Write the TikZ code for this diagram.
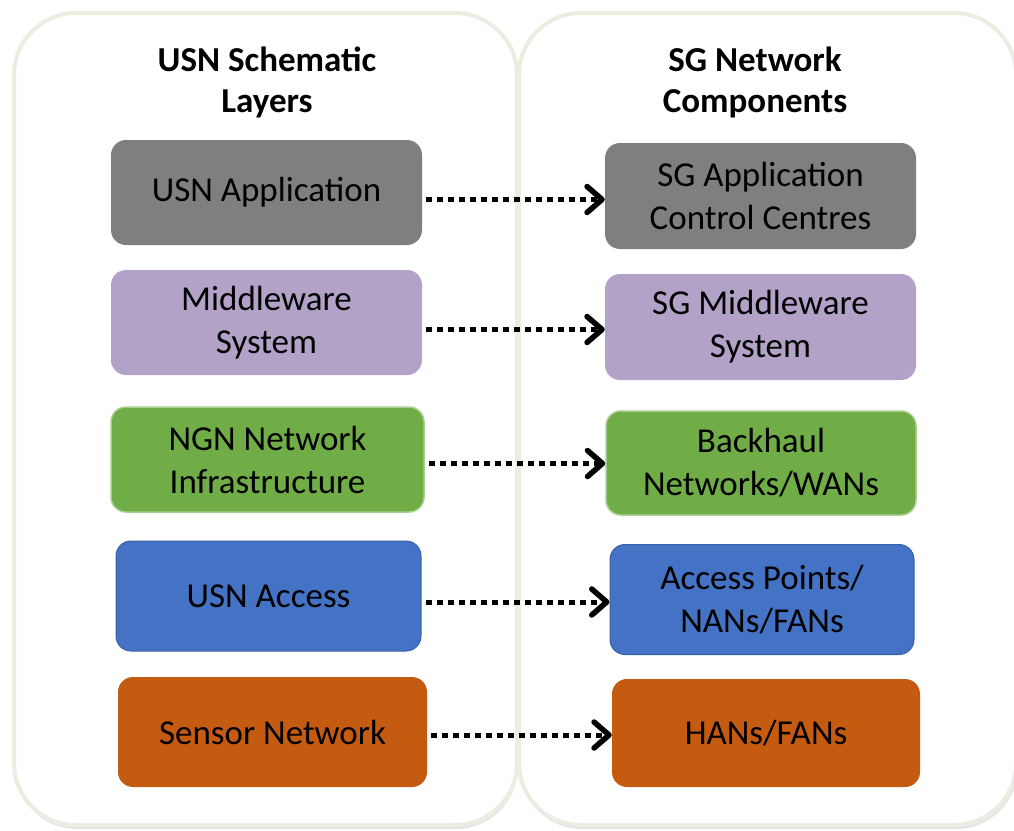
\documentclass[tikz,border=0pt]{standalone}
\usepackage{fontspec}
\setmainfont{Carlito}
\usetikzlibrary{arrows.meta,positioning}
\definecolor{mbeige}{HTML}{EEECE1}
\definecolor{mgray}{HTML}{7F7F7F}
\definecolor{mpurple}{HTML}{B3A2C7}
\definecolor{mgreen}{HTML}{70AD47}
\definecolor{mblue}{HTML}{4472C4}
\definecolor{morange}{HTML}{C55A11}
\newcommand{\boxfont}{\fontsize{35}{43}\selectfont}
\newcommand{\headfont}{\fontsize{35}{41}\selectfont\bfseries}
\tikzstyle{panel}=[draw=mbeige, line width=4pt, fill=white, rounded corners=62pt]
\tikzstyle{shade}=[fill=black, opacity=0.10, rounded corners=62pt]
\tikzstyle{layer}=[rounded corners=15pt, align=center, font=\boxfont, inner sep=0pt, text=black]
\tikzstyle{head}=[align=center, font=\headfont]
\tikzstyle{link}=[line width=5pt, dash pattern=on 6pt off 5pt, -{Straight Barb[length=15pt, width=26pt, line width=5.5pt, line join=round, line cap=round]}]

\begin{document}
\begin{tikzpicture}[x=1pt, y=-1pt]
    \useasboundingbox (0,0) rectangle (1014,830);

    % panels
    \path[shade] (15,17) rectangle (518,829);
    \path[shade] (520,17) rectangle (1018,829);
    \path[panel] (14,13) rectangle (517,825);
    \path[panel] (519,13) rectangle (1016,825);

    \node[head] (lhead) at (267,82) {USN Schematic\\Layers};
    \node[head] (rhead) at (755,82) {SG Network\\Components};

    % left column
    \node[layer, fill=mgray, minimum width=311pt, minimum height=105pt] (l1) at (266.5,192.5) {USN Application};
    \node[layer, fill=mpurple, minimum width=311pt, minimum height=105pt] (l2) at (266.5,322.5) {Middleware\\System};
    \node[layer, fill=mgreen, draw=mgreen!60!white, line width=1.5pt, minimum width=313pt, minimum height=105pt] (l3) at (267.5,459.5) {NGN Network\\Infrastructure};
    \node[layer, fill=mblue, draw=mblue!85!black, line width=1pt, minimum width=305pt, minimum height=110pt] (l4) at (268.5,596) {USN Access};
    \node[layer, fill=morange, minimum width=309pt, minimum height=110pt] (l5) at (272.5,732) {Sensor Network};

    % right column
    \node[layer, fill=mgray, minimum width=311pt, minimum height=106pt] (r1) at (760.5,196) {SG Application\\Control Centres};
    \node[layer, fill=mpurple, minimum width=311pt, minimum height=106pt] (r2) at (760.5,327) {SG Middleware\\System};
    \node[layer, fill=mgreen, draw=mgreen!60!white, line width=1.5pt, minimum width=310pt, minimum height=104pt] (r3) at (761,463) {Backhaul\\Networks/WANs};
    \node[layer, fill=mblue, draw=mblue!85!black, line width=1pt, minimum width=304pt, minimum height=110pt] (r4) at (762,599.5) {Access Points/\\NANs/FANs};
    \node[layer, fill=morange, minimum width=308pt, minimum height=108pt] (r5) at (766,733) {HANs/FANs};

    % links
    \foreach \i/\dy in {1/7,2/7,3/4,4/6,5/3}{
        \coordinate (s\i) at ([xshift=4pt, yshift=-\dy pt]l\i.east);
        \draw[link] (s\i) -- (s\i -| r\i.west);
    }

\end{tikzpicture}
\end{document}
